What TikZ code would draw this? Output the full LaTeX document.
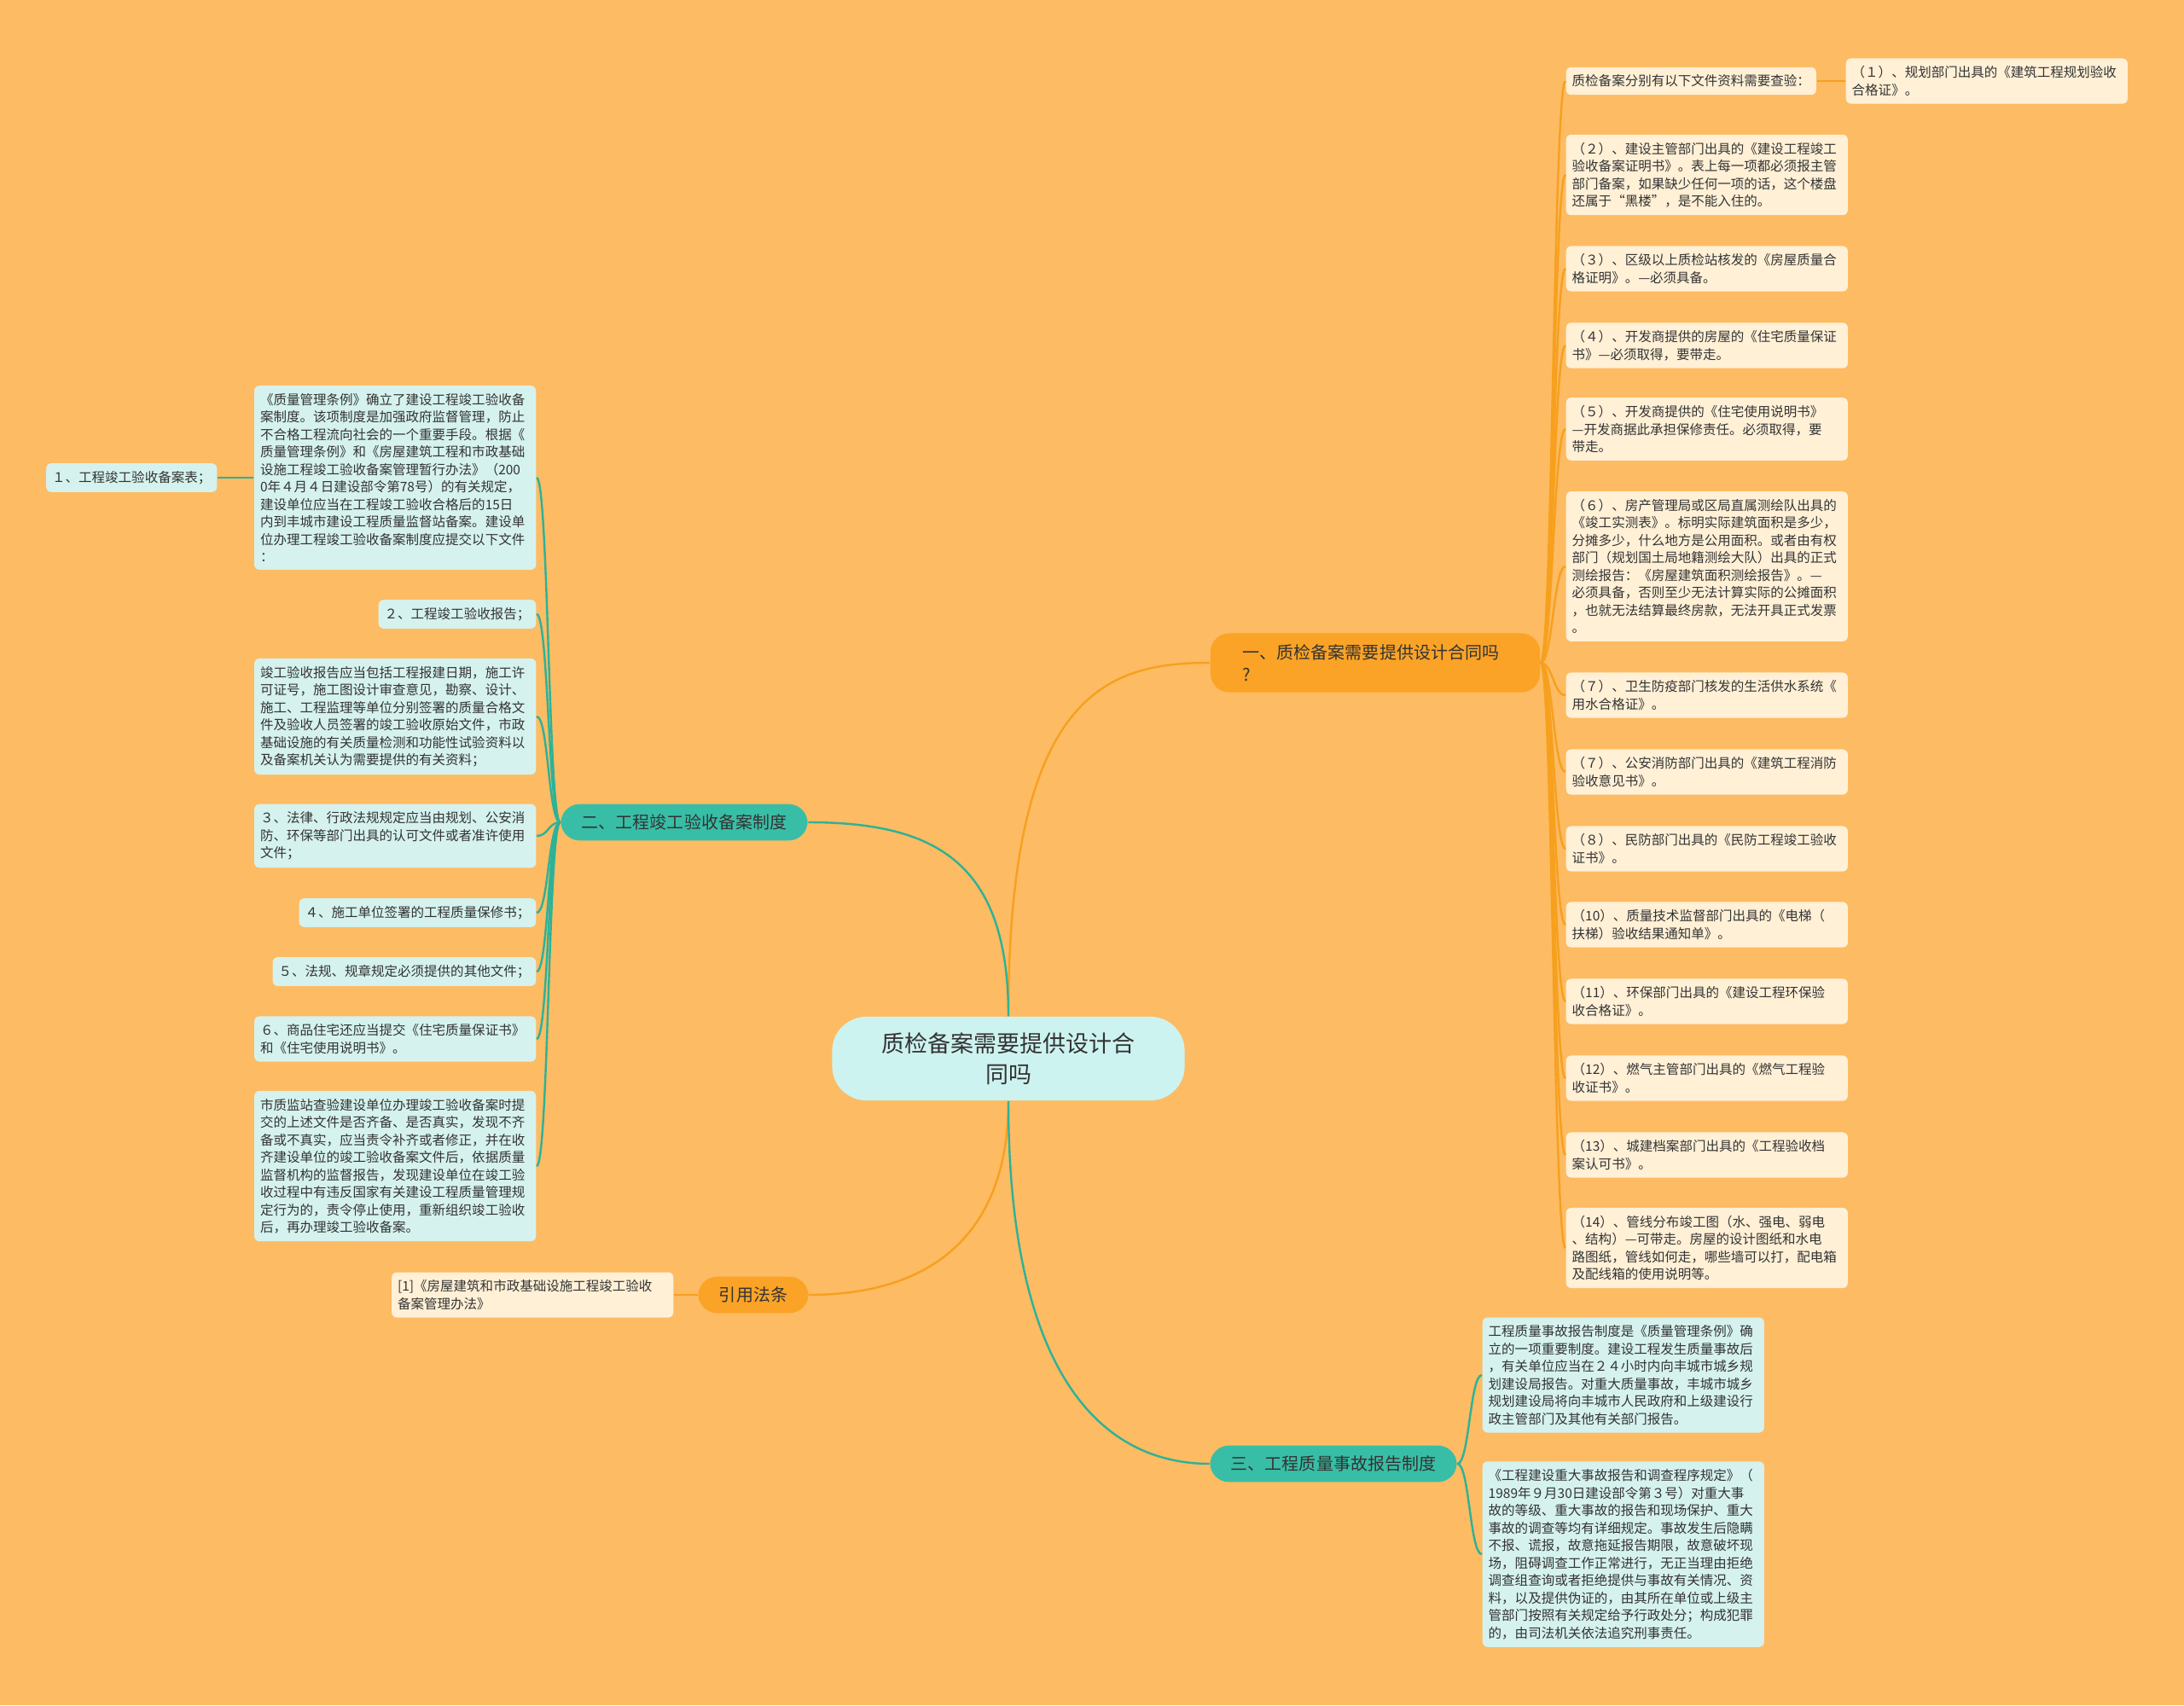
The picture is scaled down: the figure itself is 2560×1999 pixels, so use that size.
\documentclass[tikz,border=0pt]{standalone}
\usepackage{fontspec}
\setmainfont{Noto Sans CJK SC}
\definecolor{bgorange}{RGB}{253,187,99}
\definecolor{branchorange}{RGB}{250,163,38}
\definecolor{branchteal}{RGB}{56,190,166}
\definecolor{lineorange}{RGB}{246,160,30}
\definecolor{lineteal}{RGB}{44,178,152}
\definecolor{leafcyan}{RGB}{213,242,238}
\definecolor{leafcream}{RGB}{255,240,214}
\definecolor{centercyan}{RGB}{205,243,240}
\definecolor{textdark}{RGB}{51,51,51}
\newcommand{\leaffont}{\fontsize{4.41pt}{5.83pt}\selectfont}
\newcommand{\branchfont}{\fontsize{5.69pt}{7.4pt}\selectfont}
\newcommand{\rootfont}{\fontsize{7.68pt}{10.24pt}\selectfont}

\begin{document}
\begin{tikzpicture}[x=0.01cm, y=-0.01cm,
    leaf/.style={rounded corners=0.06cm, inner xsep=0.07cm, inner ysep=0.09cm, font=\leaffont, text=textdark, align=left},
    tealleaf/.style={leaf, fill=leafcyan},
    orangeleaf/.style={leaf, fill=leafcream},
    widebox/.style={text width=3.16cm},
    branch/.style={rounded corners=0.22cm, inner xsep=0.245cm, inner ysep=0.12cm, font=\branchfont, text=textdark},
    tealline/.style={draw=lineteal, line width=0.024cm},
    orangeline/.style={draw=lineorange, line width=0.024cm}]
    % Background
    \fill[bgorange] (0,0) rectangle (2560,1999);
    \useasboundingbox (0,0) rectangle (2560,1999);

    % Root and main branches
    \node[fill=centercyan, rounded corners=0.4cm, minimum width=4.13cm, minimum height=0.98cm, font=\rootfont, text=textdark, align=center] (root) at (1182,1241) {质检备案需要提供设计合\\同吗};
    \node[branch, fill=branchorange, text width=3.1cm, inner xsep=0.38cm, inner ysep=0.13cm, align=left] (one) at (1612,777) {一、质检备案需要提供设计合同吗\\?};
    \node[branch, fill=branchteal] (two) at (802,964) {二、工程竣工验收备案制度};
    \node[branch, fill=branchorange] (cite) at (883,1518) {引用法条};
    \node[branch, fill=branchteal] (three) at (1563,1716) {三、工程质量事故报告制度};

    % Left leaves
    \node[tealleaf, widebox, anchor=east] (filing) at (629,560) {《质量管理条例》确立了建设工程竣工验收备\\案制度。该项制度是加强政府监督管理，防止\\不合格工程流向社会的一个重要手段。根据《\\质量管理条例》和《房屋建筑工程和市政基础\\设施工程竣工验收备案管理暂行办法》（200\\0年４月４日建设部令第78号）的有关规定，\\建设单位应当在工程竣工验收合格后的15日\\内到丰城市建设工程质量监督站备案。建设单\\位办理工程竣工验收备案制度应提交以下文件\\：};
    \node[tealleaf, anchor=east] (form) at (255,560) {１、工程竣工验收备案表；};
    \node[tealleaf, anchor=east] (report) at (629,720) {２、工程竣工验收报告；};
    \node[tealleaf, widebox, anchor=east] (reportbody) at (629,840) {竣工验收报告应当包括工程报建日期，施工许\\可证号，施工图设计审查意见，勘察、设计、\\施工、工程监理等单位分别签署的质量合格文\\件及验收人员签署的竣工验收原始文件，市政\\基础设施的有关质量检测和功能性试验资料以\\及备案机关认为需要提供的有关资料；};
    \node[tealleaf, widebox, anchor=east] (permits) at (629,980) {３、法律、行政法规规定应当由规划、公安消\\防、环保等部门出具的认可文件或者准许使用\\文件；};
    \node[tealleaf, anchor=east] (warranty) at (629,1070) {４、施工单位签署的工程质量保修书；};
    \node[tealleaf, anchor=east] (otherdocs) at (629,1139) {５、法规、规章规定必须提供的其他文件；};
    \node[tealleaf, widebox, anchor=east] (housing) at (629,1218) {６、商品住宅还应当提交《住宅质量保证书》\\和《住宅使用说明书》。};
    \node[tealleaf, widebox, anchor=east] (inspect) at (629,1367) {市质监站查验建设单位办理竣工验收备案时提\\交的上述文件是否齐备、是否真实，发现不齐\\备或不真实，应当责令补齐或者修正，并在收\\齐建设单位的竣工验收备案文件后，依据质量\\监督机构的监督报告，发现建设单位在竣工验\\收过程中有违反国家有关建设工程质量管理规\\定行为的，责令停止使用，重新组织竣工验收\\后，再办理竣工验收备案。};
    \node[orangeleaf, widebox, anchor=east] (law) at (790,1518) {[1]《房屋建筑和市政基础设施工程竣工验收\\备案管理办法》};

    % Right leaves
    \node[orangeleaf, anchor=west] (check) at (1835,95) {质检备案分别有以下文件资料需要查验：};
    \node[orangeleaf, widebox, anchor=west] (doc1) at (2163,95) {（１）、规划部门出具的《建筑工程规划验收\\合格证》。};
    \node[orangeleaf, widebox, anchor=west] (doc2) at (1835,205) {（２）、建设主管部门出具的《建设工程竣工\\验收备案证明书》。表上每一项都必须报主管\\部门备案，如果缺少任何一项的话，这个楼盘\\还属于“黑楼”，是不能入住的。};
    \node[orangeleaf, widebox, anchor=west] (doc3) at (1835,315) {（３）、区级以上质检站核发的《房屋质量合\\格证明》。—必须具备。};
    \node[orangeleaf, widebox, anchor=west] (doc4) at (1835,405) {（４）、开发商提供的房屋的《住宅质量保证\\书》—必须取得，要带走。};
    \node[orangeleaf, widebox, anchor=west] (doc5) at (1835,503) {（５）、开发商提供的《住宅使用说明书》\\—开发商据此承担保修责任。必须取得，要\\带走。};
    \node[orangeleaf, widebox, anchor=west] (doc6) at (1835,664) {（６）、房产管理局或区局直属测绘队出具的\\《竣工实测表》。标明实际建筑面积是多少，\\分摊多少，什么地方是公用面积。或者由有权\\部门（规划国土局地籍测绘大队）出具的正式\\测绘报告：《房屋建筑面积测绘报告》。—\\必须具备，否则至少无法计算实际的公摊面积\\，也就无法结算最终房款，无法开具正式发票\\。};
    \node[orangeleaf, widebox, anchor=west] (doc7a) at (1835,815) {（７）、卫生防疫部门核发的生活供水系统《\\用水合格证》。};
    \node[orangeleaf, widebox, anchor=west] (doc7b) at (1835,905) {（７）、公安消防部门出具的《建筑工程消防\\验收意见书》。};
    \node[orangeleaf, widebox, anchor=west] (doc8) at (1835,995) {（８）、民防部门出具的《民防工程竣工验收\\证书》。};
    \node[orangeleaf, widebox, anchor=west] (doc10) at (1835,1084) {（10）、质量技术监督部门出具的《电梯（\\扶梯）验收结果通知单》。};
    \node[orangeleaf, widebox, anchor=west] (doc11) at (1835,1174) {（11）、环保部门出具的《建设工程环保验\\收合格证》。};
    \node[orangeleaf, widebox, anchor=west] (doc12) at (1835,1264) {（12）、燃气主管部门出具的《燃气工程验\\收证书》。};
    \node[orangeleaf, widebox, anchor=west] (doc13) at (1835,1354) {（13）、城建档案部门出具的《工程验收档\\案认可书》。};
    \node[orangeleaf, widebox, anchor=west] (doc14) at (1835,1463) {（14）、管线分布竣工图（水、强电、弱电\\、结构）—可带走。房屋的设计图纸和水电\\路图纸，管线如何走，哪些墙可以打，配电箱\\及配线箱的使用说明等。};

    % Bottom right leaves
    \node[tealleaf, widebox, anchor=west] (accident) at (1737,1612) {工程质量事故报告制度是《质量管理条例》确\\立的一项重要制度。建设工程发生质量事故后\\，有关单位应当在２４小时内向丰城市城乡规\\划建设局报告。对重大质量事故，丰城市城乡\\规划建设局将向丰城市人民政府和上级建设行\\政主管部门及其他有关部门报告。};
    \node[tealleaf, widebox, anchor=west] (procedure) at (1737,1822) {《工程建设重大事故报告和调查程序规定》（\\1989年９月30日建设部令第３号）对重大事\\故的等级、重大事故的报告和现场保护、重大\\事故的调查等均有详细规定。事故发生后隐瞒\\不报、谎报，故意拖延报告期限，故意破坏现\\场，阻碍调查工作正常进行，无正当理由拒绝\\调查组查询或者拒绝提供与事故有关情况、资\\料，以及提供伪证的，由其所在单位或上级主\\管部门按照有关规定给予行政处分；构成犯罪\\的，由司法机关依法追究刑事责任。};

    % Root connectors
    \draw[orangeline] (root.north) .. controls +(0,-380) and +(-120,0) .. (one.west);
    \draw[tealline] (root.north) .. controls +(0,-180) and +(150,0) .. (two.east);
    \draw[orangeline] (root.south) .. controls +(0,150) and +(150,0) .. (cite.east);
    \draw[tealline] (root.south) .. controls +(0,330) and +(-120,0) .. (three.west);

    % Branch two connectors
    \draw[tealline] (two.west) .. controls +(-14,0) and +(14,0) .. (filing.east);
    \draw[tealline] (two.west) .. controls +(-14,0) and +(14,0) .. (report.east);
    \draw[tealline] (two.west) .. controls +(-14,0) and +(14,0) .. (reportbody.east);
    \draw[tealline] (two.west) .. controls +(-14,0) and +(14,0) .. (permits.east);
    \draw[tealline] (two.west) .. controls +(-14,0) and +(14,0) .. (warranty.east);
    \draw[tealline] (two.west) .. controls +(-14,0) and +(14,0) .. (otherdocs.east);
    \draw[tealline] (two.west) .. controls +(-14,0) and +(14,0) .. (housing.east);
    \draw[tealline] (two.west) .. controls +(-14,0) and +(14,0) .. (inspect.east);
    \draw[tealline] (filing.west) -- (form.east);

    % Citation connector
    \draw[orangeline] (cite.west) -- (law.east);

    % Branch one connectors
    \draw[orangeline] (one.east) .. controls +(14,0) and +(-14,0) .. (check.west);
    \draw[orangeline] (check.east) -- (doc1.west);
    \draw[orangeline] (one.east) .. controls +(14,0) and +(-14,0) .. (doc2.west);
    \draw[orangeline] (one.east) .. controls +(14,0) and +(-14,0) .. (doc3.west);
    \draw[orangeline] (one.east) .. controls +(14,0) and +(-14,0) .. (doc4.west);
    \draw[orangeline] (one.east) .. controls +(14,0) and +(-14,0) .. (doc5.west);
    \draw[orangeline] (one.east) .. controls +(14,0) and +(-14,0) .. (doc6.west);
    \draw[orangeline] (one.east) .. controls +(14,0) and +(-14,0) .. (doc7a.west);
    \draw[orangeline] (one.east) .. controls +(14,0) and +(-14,0) .. (doc7b.west);
    \draw[orangeline] (one.east) .. controls +(14,0) and +(-14,0) .. (doc8.west);
    \draw[orangeline] (one.east) .. controls +(14,0) and +(-14,0) .. (doc10.west);
    \draw[orangeline] (one.east) .. controls +(14,0) and +(-14,0) .. (doc11.west);
    \draw[orangeline] (one.east) .. controls +(14,0) and +(-14,0) .. (doc12.west);
    \draw[orangeline] (one.east) .. controls +(14,0) and +(-14,0) .. (doc13.west);
    \draw[orangeline] (one.east) .. controls +(14,0) and +(-14,0) .. (doc14.west);

    % Branch three connectors
    \draw[tealline] (three.east) .. controls +(14,0) and +(-14,0) .. (accident.west);
    \draw[tealline] (three.east) .. controls +(14,0) and +(-14,0) .. (procedure.west);
\end{tikzpicture}
\end{document}
